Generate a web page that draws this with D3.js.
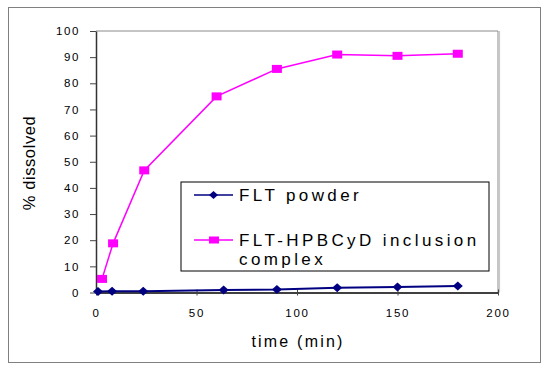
<!DOCTYPE html>
<html><head><meta charset="utf-8">
<script src="https://cdn.jsdelivr.net/npm/d3@7"></script>
<style>
html,body{margin:0;padding:0;background:#fff;}
svg{display:block;}
text{font-family:Arial,"Liberation Sans",sans-serif;fill:#000;}
</style></head><body>
<svg id="c" width="545" height="367"></svg>
<script>
const powderTime = [1, 8, 23.5, 63.5, 90, 120, 150, 180];
const powderValues = [0.4, 0.5, 0.5, 1.0, 1.1, 1.8, 2.1, 2.5];
const complexTime = [3, 8.5, 24, 60, 90, 120, 150, 180];
const complexValues = [5.2, 18.8, 46.7, 75, 85.5, 91, 90.5, 91.3];
const xTicks = [0, 50, 100, 150, 200];
const yTicks = [0, 10, 20, 30, 40, 50, 60, 70, 80, 90, 100];
const seriesNames = ["FLT powder", "FLT-HPBCyD inclusion", "complex"];
const xTitle = "time (min)";
const yTitle = "% dissolved";

const svg = d3.select("#c");
// outer frame
svg.append("rect").attr("x", 8.5).attr("y", 7.5).attr("width", 532).attr("height", 355)
  .attr("fill", "#fff").attr("stroke", "#808080").attr("stroke-width", 1);

const x = d3.scaleLinear().domain([0, 200]).range([96, 498]);
const y = d3.scaleLinear().domain([0, 100]).range([292.5, 31]);

// plot area border (top/right gray)
svg.append("path")
  .attr("d", `M${x(0)},${y(100)}H${x(200)}V${y(0)}`)
  .attr("fill", "none").attr("stroke", "#8a8a8a").attr("stroke-width", 1);
svg.append("line").attr("x1", x(200) + 1.5).attr("x2", x(200) + 1.5)
  .attr("y1", y(100)).attr("y2", y(0)).attr("stroke", "#c8c8c8").attr("stroke-width", 1.2);

// axes
const xAxis = d3.axisBottom(x).tickValues(xTicks).tickSizeInner(3).tickSizeOuter(0).tickPadding(13);
const gx = svg.append("g").attr("transform", `translate(0,${y(0)})`).call(xAxis);
gx.select(".domain").attr("stroke", "#000").attr("stroke-width", 1.3);
gx.selectAll(".tick line").attr("y1", -3).attr("y2", 3).attr("stroke", "#444");
gx.selectAll(".tick text").attr("font-size", 11.5).attr("letter-spacing", 1.8)
  .style("font-family", "Arial, 'Liberation Sans', sans-serif").attr("fill", "#000");

const yAxis = d3.axisLeft(y).tickValues(yTicks).tickSizeInner(6).tickSizeOuter(0).tickPadding(10);
const gy = svg.append("g").attr("transform", `translate(${x(0)},0)`).call(yAxis);
gy.select(".domain").attr("stroke", "#333").attr("stroke-width", 1.5);
gy.selectAll(".tick line").attr("stroke", "#444");
gy.selectAll(".tick text").attr("font-size", 11.5).attr("letter-spacing", 1.6)
  .style("font-family", "Arial, 'Liberation Sans', sans-serif").attr("fill", "#000");

// axis titles
svg.append("text").attr("x", 298).attr("y", 347).attr("text-anchor", "middle")
  .attr("font-size", 16).attr("letter-spacing", 2.2).text(xTitle);
svg.append("text").attr("transform", "translate(35,163) rotate(-90)").attr("text-anchor", "middle")
  .attr("font-size", 16.5).attr("letter-spacing", 0.6).text(yTitle);

const line = d3.line().x(d => x(d[0])).y(d => y(d[1]));
const powder = powderTime.map((t, i) => [t, powderValues[i]]);
const complex = complexTime.map((t, i) => [t, complexValues[i]]);

// powder series
svg.append("path").datum(powder).attr("d", line).attr("fill", "none")
  .attr("stroke", "#000080").attr("stroke-width", 2);
const diamond = (cx, cy, w, h) => `M${cx},${cy - h/2}L${cx + w/2},${cy}L${cx},${cy + h/2}L${cx - w/2},${cy}Z`;
svg.selectAll(".pd").data(powder).enter().append("path")
  .attr("d", d => diamond(x(d[0]), y(d[1]), 10, 9)).attr("fill", "#000080");

// complex series
svg.append("path").datum(complex).attr("d", line).attr("fill", "none")
  .attr("stroke", "#ff00ff").attr("stroke-width", 1.5);
svg.selectAll(".cs").data(complex).enter().append("rect")
  .attr("x", d => x(d[0]) - 5).attr("y", d => y(d[1]) - 4).attr("width", 10).attr("height", 8)
  .attr("fill", "#ff00ff");

// legend
const lg = svg.append("g");
lg.append("rect").attr("x", 181).attr("y", 182).attr("width", 308).attr("height", 89)
  .attr("fill", "#fff").attr("stroke", "#000").attr("stroke-width", 1);
lg.append("line").attr("x1", 194).attr("x2", 233).attr("y1", 195).attr("y2", 195)
  .attr("stroke", "#000080").attr("stroke-width", 1.5);
lg.append("path").attr("d", diamond(213.5, 195, 9, 8)).attr("fill", "#000080");
lg.append("line").attr("x1", 194).attr("x2", 233).attr("y1", 240).attr("y2", 240)
  .attr("stroke", "#ff00ff").attr("stroke-width", 1.5);
lg.append("rect").attr("x", 209).attr("y", 236.5).attr("width", 10).attr("height", 7).attr("fill", "#ff00ff");
const lt = (ty, s) => lg.append("text").attr("x", 239).attr("y", ty).attr("font-size", 17)
  .attr("letter-spacing", 3.4).text(s);
lt(201, seriesNames[0]);
lt(246, seriesNames[1]);
lt(265, seriesNames[2]);
</script>
</body></html>
